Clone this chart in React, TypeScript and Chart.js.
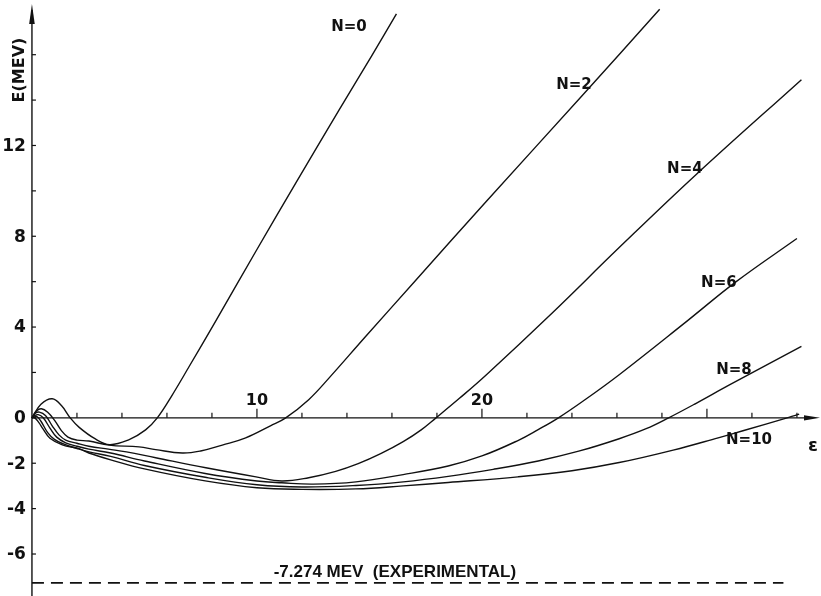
import React, { useEffect, useRef } from 'react';
import { Chart, registerables } from 'chart.js';

Chart.register(...registerables);

// Deformation energy curves E(eps) for oscillator shells N
const eps0 = [0, 0.4, 0.9, 1.3, 1.7, 2.1, 2.8, 3.45, 4.3, 5.05, 5.57, 6.2, 6.98, 8.16, 9.96, 11.73, 13.64, 15.1, 16.2];
const e0 = [0, 0.6, 0.84, 0.55, 0, -0.42, -0.92, -1.18, -0.97, -0.53, 0, 0.95, 2.25, 4.25, 7.35, 10.35, 13.55, 15.95, 17.8];

const eps2 = [0, 0.2, 0.42, 0.7, 1.0, 1.3, 1.6, 2.0, 2.53, 3.42, 4.76, 5.5, 6.68, 7.5, 8.46, 9.5, 10.6, 11.28, 12.3, 13.2, 14.8, 17.05, 20.16, 24.46, 27.9];
const e2 = [0, 0.3, 0.4, 0.25, -0.1, -0.55, -0.85, -0.98, -1.02, -1.2, -1.28, -1.4, -1.55, -1.46, -1.2, -0.88, -0.35, 0, 0.8, 1.75, 3.55, 6.05, 9.5, 14.2, 18.0];

const eps4 = [0, 0.15, 0.33, 0.6, 0.9, 1.2, 1.5, 2.0, 2.53, 3.4, 4.2, 5.5, 7.73, 9.96, 11.1, 12.3, 13.5, 14.5, 15.5, 16.5, 17.3, 17.96, 19, 20.2, 23.1, 26.1, 29.5, 34.2];
const e4 = [0, 0.2, 0.25, 0.1, -0.35, -0.75, -0.98, -1.12, -1.25, -1.38, -1.5, -1.76, -2.2, -2.6, -2.78, -2.64, -2.36, -2.02, -1.58, -1.05, -0.53, 0, 0.86, 1.9, 4.6, 7.5, 10.7, 14.9];

const eps6 = [0, 0.12, 0.28, 0.5, 0.8, 1.1, 1.5, 2.0, 2.53, 3.5, 5, 7.7, 10, 11.1, 12.5, 14.4, 16.5, 18.5, 20, 21.6, 22.5, 23.4, 24.5, 26.1, 29.1, 31.3, 34.0];
const e6 = [0, 0.1, 0.14, 0.0, -0.45, -0.85, -1.1, -1.25, -1.38, -1.55, -1.9, -2.45, -2.78, -2.86, -2.92, -2.82, -2.5, -2.12, -1.68, -1.0, -0.52, 0, 0.74, 1.9, 4.25, 6.0, 7.9];

const eps8 = [0, 0.1, 0.22, 0.4, 0.7, 1.0, 1.4, 2.0, 2.53, 3.5, 5, 7.7, 10, 12, 14.4, 16.5, 18.5, 20.5, 22.5, 24.3, 26.1, 27.3, 28.3, 29.5, 31, 34.2];
const e8 = [0, 0.04, 0.06, -0.15, -0.65, -0.95, -1.15, -1.35, -1.5, -1.7, -2.1, -2.62, -2.95, -3.05, -2.98, -2.82, -2.58, -2.27, -1.9, -1.47, -0.92, -0.48, 0, 0.63, 1.45, 3.15];

const eps10 = [0, 0.1, 0.3, 0.5, 0.8, 1.35, 2.09, 2.53, 3.5, 5, 7.7, 10, 12, 14.4, 16.5, 18.5, 21.6, 24, 26.1, 28.5, 30.5, 31.6, 33.64, 34.1];
const e10 = [0, 0.02, -0.2, -0.5, -0.9, -1.19, -1.36, -1.55, -1.85, -2.25, -2.78, -3.08, -3.15, -3.13, -3.0, -2.85, -2.6, -2.33, -1.97, -1.42, -0.88, -0.57, 0.02, 0.16];

const expEps = [0, 33.4];
const expE = [-7.274, -7.274];
const expLabel = '-7.274 MEV  (EXPERIMENTAL)';

const curveNames = ['N=0', 'N=2', 'N=4', 'N=6', 'N=8', 'N=10'];
const curveLabelEps = [14.09, 24.09, 29.02, 30.53, 31.2, 31.87];
const curveLabelE = [17.2, 14.67, 10.97, 5.95, 2.1, -0.97];

const yTickValues = [-6, -4, -2, 0, 2, 4, 6, 8, 10, 12, 14, 16];
const yLabelValues = [12, 8, 4, 0, -2, -4, -6];
const xTickValues = [2, 4, 6, 8, 10, 12, 14, 16, 18, 20, 22, 24, 26, 28, 30, 32, 34];
const xLabelValues = [10, 20];
const xLongTicks = [10, 20, 30];
const xAxisTitle = 'ε';
const yAxisTitle = 'E(MEV)';

const toPts = (xs: number[], ys: number[]) => xs.map((x, i) => ({ x, y: ys[i] }));

const FONT = '"DejaVu Sans", "Liberation Sans", sans-serif';

const axesPlugin = {
  id: 'hillAxes',
  beforeDatasetsDraw(chart: any) {
    const ctx = chart.ctx;
    const xs = chart.scales.x;
    const ys = chart.scales.y;
    const x0 = xs.getPixelForValue(0);
    const y0 = ys.getPixelForValue(0);
    ctx.save();
    ctx.strokeStyle = '#111';
    ctx.fillStyle = '#111';
    ctx.lineWidth = 1.4;
    // y axis
    ctx.beginPath();
    ctx.moveTo(x0, 10);
    ctx.lineTo(x0, chart.height);
    ctx.stroke();
    ctx.beginPath();
    ctx.moveTo(x0, 4);
    ctx.lineTo(x0 - 2.8, 24);
    ctx.lineTo(x0 + 2.8, 24);
    ctx.closePath();
    ctx.fill();
    // x axis
    ctx.beginPath();
    ctx.moveTo(x0, y0);
    ctx.lineTo(chart.width - 10, y0);
    ctx.stroke();
    ctx.beginPath();
    ctx.moveTo(chart.width - 1, y0);
    ctx.lineTo(chart.width - 17, y0 - 2.6);
    ctx.lineTo(chart.width - 17, y0 + 2.6);
    ctx.closePath();
    ctx.fill();
    // y ticks
    ctx.lineWidth = 1.2;
    yTickValues.forEach((v) => {
      const py = ys.getPixelForValue(v);
      ctx.beginPath();
      ctx.moveTo(x0, py);
      ctx.lineTo(x0 + 4, py);
      ctx.stroke();
    });
    // x ticks
    xTickValues.forEach((v) => {
      const px = xs.getPixelForValue(v);
      const len = xLongTicks.includes(v) ? 9 : 5;
      ctx.beginPath();
      ctx.moveTo(px, y0);
      ctx.lineTo(px, y0 - len);
      ctx.stroke();
    });
    ctx.restore();
  },
  afterDatasetsDraw(chart: any) {
    const ctx = chart.ctx;
    const xs = chart.scales.x;
    const ys = chart.scales.y;
    const x0 = xs.getPixelForValue(0);
    const y0 = ys.getPixelForValue(0);
    ctx.save();
    ctx.fillStyle = '#111';
    ctx.font = `bold 17px ${FONT}`;
    ctx.textAlign = 'right';
    ctx.textBaseline = 'middle';
    yLabelValues.forEach((v) => {
      ctx.fillText(String(v), x0 - 6, ys.getPixelForValue(v) + 1);
    });
    ctx.font = `bold 16px ${FONT}`;
    ctx.textAlign = 'center';
    ctx.textBaseline = 'alphabetic';
    xLabelValues.forEach((v) => {
      ctx.fillText(String(v), xs.getPixelForValue(v), y0 - 13);
    });
    // curve labels
    ctx.font = `bold 15px ${FONT}`;
    ctx.textBaseline = 'middle';
    curveNames.forEach((n, i) => {
      ctx.fillText(n, xs.getPixelForValue(curveLabelEps[i]), ys.getPixelForValue(curveLabelE[i]));
    });
    // epsilon
    ctx.font = `bold 18px ${FONT}`;
    ctx.fillText(xAxisTitle, chart.width - 8, y0 + 28);
    // experimental label
    ctx.font = `bold 17px "Liberation Sans", ${FONT}`;
    ctx.textBaseline = 'alphabetic';
    ctx.fillText(expLabel, xs.getPixelForValue(16.13), ys.getPixelForValue(expE[0]) - 6);
    // y title rotated
    ctx.save();
    ctx.translate(x0 - 12, 70);
    ctx.rotate(-Math.PI / 2);
    ctx.font = `bold 16px ${FONT}`;
    ctx.textBaseline = 'middle';
    ctx.fillText(yAxisTitle, 0, 0);
    ctx.restore();
    ctx.restore();
  },
};

export default function App() {
  const ref = useRef<HTMLCanvasElement | null>(null);
  useEffect(() => {
    if (!ref.current) return;
    const lineStyle = {
      borderColor: '#111',
      borderWidth: 1.4,
      pointRadius: 0,
      showLine: true,
      fill: false,
      tension: 0.4,
    };
    const chart = new Chart(ref.current, {
      type: 'scatter',
      data: {
        datasets: [
          { label: curveNames[0], data: toPts(eps0, e0), ...lineStyle },
          { label: curveNames[1], data: toPts(eps2, e2), ...lineStyle },
          { label: curveNames[2], data: toPts(eps4, e4), ...lineStyle },
          { label: curveNames[3], data: toPts(eps6, e6), ...lineStyle },
          { label: curveNames[4], data: toPts(eps8, e8), ...lineStyle },
          { label: curveNames[5], data: toPts(eps10, e10), ...lineStyle },
          {
            label: 'experimental',
            data: toPts(expEps, expE),
            borderColor: '#111',
            borderWidth: 1.8,
            borderDash: [12, 7],
            pointRadius: 0,
            showLine: true,
            fill: false,
          },
        ],
      },
      options: {
        animation: false,
        responsive: false,
        maintainAspectRatio: false,
        devicePixelRatio: 1,
        layout: { padding: 0 },
        plugins: { legend: { display: false }, tooltip: { enabled: false } },
        scales: {
          x: { type: 'linear', min: -1.42, max: 35.07, display: false },
          y: { type: 'linear', min: -7.85, max: 18.41, display: false },
        },
      },
      plugins: [axesPlugin],
    });
    return () => chart.destroy();
  }, []);
  return (
    <div style={{ position: 'fixed', left: 0, top: 0, width: 821, height: 596, background: '#fff' }}>
      <canvas ref={ref} width={821} height={596} style={{ display: 'block' }} />
    </div>
  );
}
